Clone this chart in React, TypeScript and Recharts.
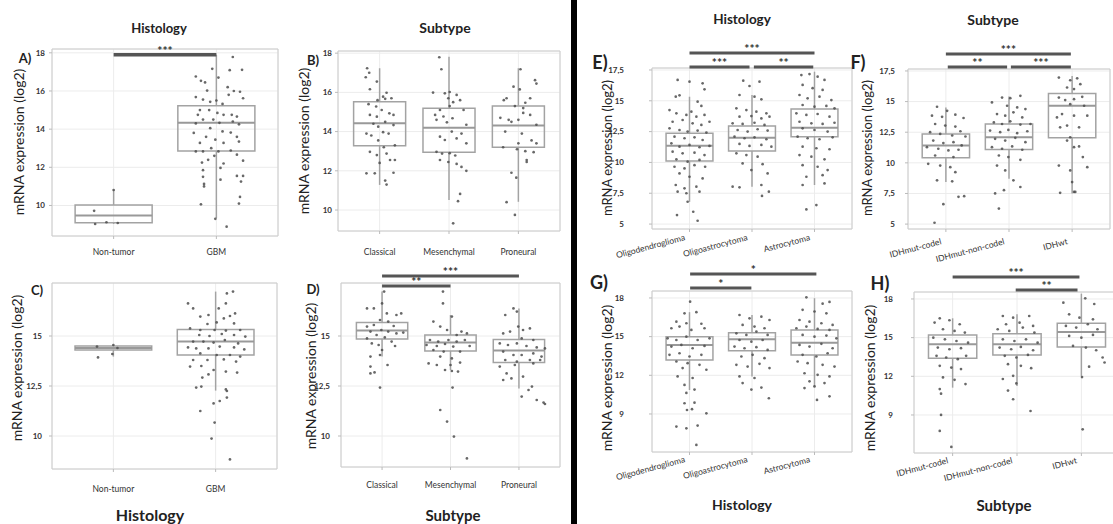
import { ComposedChart, XAxis, YAxis, CartesianGrid, Scatter, ReferenceArea, ReferenceLine } from 'recharts';

// categories
const catsHistA = ['Non-tumor', 'GBM'];
const catsSubB = ['Classical', 'Mesenchymal', 'Proneural'];
const catsHistE = ['Oligodendroglioma', 'Oligoastrocytoma', 'Astrocytoma'];
const catsSubF = ['IDHmut-codel', 'IDHmut-non-codel', 'IDHwt'];

// y ticks and domains
const ticksAB = [10, 12, 14, 16, 18];
const ticksCD = [10, 12.5, 15];
const ticksEF = [5, 7.5, 10, 12.5, 15, 17.5];
const ticksGH = [9, 12, 15, 18];
const domA = [8.4, 18.2];
const domB = [8.93, 18.11];
const domC = [8.35, 17.65];
const domD = [8.45, 17.65];
const domEF = [4.6, 17.66];
const domGH = [6.05, 18.54];

// box stats per group: [whisker low, q1, median, q3, whisker high]
const boxA = [[9.03, 9.1, 9.47, 10.03, 10.81], [9.34, 12.86, 14.33, 15.22, 17.9]];
const boxB = [[11.28, 13.28, 14.42, 15.52, 17.23], [10.51, 12.94, 14.2, 15.19, 17.82], [10.42, 13.2, 14.31, 15.31, 17.23]];
const boxC = [[13.97, 14.3, 14.4, 14.5, 14.55], [12.27, 14.05, 14.72, 15.33, 17.22]];
const boxD = [[13.97, 14.85, 15.27, 15.68, 17.22], [13.3, 14.25, 14.67, 15.05, 16.05], [12.38, 13.67, 14.27, 14.83, 16.38]];
const boxE = [[6.8, 10.11, 11.35, 12.36, 15.33], [8.03, 10.93, 12.0, 12.95, 15.47], [8.17, 12.09, 12.82, 14.33, 17.36]];
const boxF = [[8.43, 10.41, 11.41, 12.36, 14.52], [8.71, 11.09, 12.09, 13.17, 15.42], [7.49, 12.04, 14.66, 15.66, 17.09]];
const boxG = [[10.86, 13.19, 14.35, 15.0, 16.9], [11.9, 13.91, 14.79, 15.31, 16.68], [11.12, 13.58, 14.53, 15.52, 17.98]];
const boxH = [[11.12, 13.4, 14.48, 15.21, 16.5], [11.25, 13.66, 14.48, 15.31, 16.81], [12.03, 14.28, 15.44, 16.11, 18.41]];

// significance bars: [from, to, value, label]
const sigA = [[1, 2, 17.9, '***']];
const sigD = [[1, 3, 18.0, '***'], [1, 2, 17.5, '**']];
const sigE = [[1, 3, 18.88, '***'], [1, 1.96, 17.74, '***'], [2.03, 2.98, 17.74, '**']];
const sigF = [[1, 2.98, 18.88, '***'], [1.03, 1.97, 17.82, '**'], [2.03, 2.98, 17.82, '***']];
const sigG = [[1.01, 3.03, 19.86, '*'], [1.01, 1.99, 18.78, '*']];
const sigH = [[1, 2.97, 19.71, '***'], [1.98, 2.94, 18.7, '**']];

// jittered samples: [offset from category, value]
const ptsA0 = [[-0.19, 9.72], [-0.18, 9.03], [-0.07, 9.12], [0.0, 10.81], [0.04, 9.08]];
const ptsA1 = [[0.16, 17.78], [-0.04, 17.16], [0.25, 17.11], [0.13, 17.09], [-0.2, 16.76], [0.02, 16.7], [-0.15, 16.53], [-0.11, 16.45], [-0.09, 16.02], [0.11, 16.2], [0.17, 16.0], [0.23, 15.96], [0.26, 15.62], [0.12, 15.8], [-0.2, 15.68], [-0.13, 15.55], [-0.06, 15.43], [0.0, 15.5], [0.06, 15.32], [-0.16, 15.0], [-0.07, 15.0], [-0.18, 14.75], [0.01, 14.85], [0.07, 14.75], [0.15, 14.75], [0.2, 14.66], [-0.13, 14.5], [-0.03, 14.5], [0.03, 14.33], [-0.2, 14.3], [0.16, 14.4], [0.22, 14.25], [-0.06, 14.05], [0.06, 13.88], [0.14, 13.82], [-0.22, 13.8], [-0.1, 13.6], [-0.01, 13.45], [0.2, 13.6], [0.22, 13.35], [-0.16, 13.28], [0.07, 13.28], [-0.05, 13.0], [-0.2, 12.83], [-0.13, 12.83], [0.02, 12.83], [0.14, 12.88], [0.2, 12.66], [-0.02, 12.6], [-0.08, 12.39], [-0.14, 12.25], [0.26, 12.35], [0.07, 12.2], [0.04, 11.97], [-0.13, 11.85], [0.2, 11.55], [0.26, 11.55], [-0.13, 11.5], [0.04, 11.35], [-0.12, 11.13], [0.24, 11.25], [-0.12, 11.0], [0.23, 10.45], [0.22, 10.1], [-0.15, 10.06], [-0.01, 9.3], [0.1, 8.89]];
const ptsB0 = [[-0.18, 17.23], [-0.15, 17.0], [-0.2, 16.77], [-0.04, 16.55], [-0.14, 16.16], [0.1, 15.98], [0.05, 15.78], [-0.03, 15.6], [0.08, 15.67], [0.17, 15.7], [-0.16, 15.4], [-0.05, 15.28], [0.03, 15.1], [0.14, 14.93], [-0.14, 14.85], [-0.04, 14.76], [0.2, 14.85], [0.08, 14.5], [-0.09, 14.4], [-0.02, 14.25], [0.2, 14.33], [-0.19, 13.9], [-0.12, 13.8], [0.05, 13.97], [0.13, 13.9], [-0.02, 13.55], [0.22, 13.3], [0.06, 13.2], [-0.14, 12.97], [-0.04, 12.8], [0.1, 12.88], [0.15, 12.55], [0.0, 12.4], [0.22, 12.55], [-0.19, 11.87], [-0.07, 11.87], [0.2, 11.9], [0.08, 11.5], [0.1, 11.3]];
const ptsB1 = [[-0.14, 17.79], [-0.11, 17.18], [-0.23, 15.99], [-0.06, 15.95], [0.01, 16.02], [0.11, 15.87], [0.16, 15.6], [-0.01, 15.7], [0.06, 15.5], [0.01, 15.3], [-0.13, 15.1], [0.21, 15.1], [-0.2, 14.85], [-0.08, 14.77], [0.05, 14.68], [-0.18, 14.6], [-0.03, 14.47], [0.25, 14.35], [0.04, 14.0], [0.18, 13.9], [-0.13, 13.74], [-0.06, 13.57], [0.11, 13.65], [0.25, 13.4], [-0.18, 12.97], [-0.1, 12.88], [0.01, 12.9], [0.09, 12.78], [-0.13, 12.55], [-0.01, 12.45], [0.11, 12.35], [0.18, 12.2], [0.25, 12.0], [0.16, 10.82], [0.13, 10.45], [0.06, 9.32]];
const ptsB2 = [[0.03, 17.18], [-0.07, 16.29], [0.24, 16.62], [0.26, 16.45], [0.02, 16.15], [-0.17, 15.7], [-0.21, 15.6], [0.17, 15.7], [0.1, 15.47], [0.07, 15.2], [-0.05, 15.3], [-0.26, 14.7], [-0.14, 14.6], [-0.1, 14.5], [0.0, 14.6], [0.07, 14.95], [0.17, 14.85], [0.26, 14.35], [-0.19, 14.0], [0.05, 13.9], [0.19, 13.55], [0.0, 13.4], [0.26, 13.4], [-0.22, 13.2], [-0.02, 13.1], [0.1, 13.0], [0.22, 12.95], [0.12, 12.55], [0.12, 12.45], [-0.1, 11.9], [-0.03, 11.65], [-0.17, 10.4], [-0.05, 9.75]];
const ptsC0 = [[-0.16, 14.47], [0.0, 14.55], [0.04, 14.4], [-0.15, 13.93], [-0.01, 14.1]];
const ptsC1 = [[0.17, 17.22], [0.11, 17.13], [-0.27, 16.63], [-0.22, 16.38], [0.1, 16.63], [0.03, 16.38], [0.19, 16.13], [-0.15, 15.97], [-0.07, 16.05], [0.08, 15.88], [0.14, 16.0], [-0.08, 15.6], [0.01, 15.68], [0.18, 15.63], [-0.25, 15.38], [-0.15, 15.3], [-0.01, 15.3], [0.1, 15.27], [0.24, 15.3], [-0.16, 15.05], [-0.06, 15.0], [0.06, 15.1], [0.18, 15.05], [0.29, 14.97], [-0.22, 14.72], [-0.12, 14.72], [-0.02, 14.67], [0.09, 14.8], [0.22, 14.63], [-0.27, 14.43], [-0.19, 14.38], [-0.07, 14.38], [0.04, 14.47], [0.18, 14.43], [0.28, 14.33], [-0.15, 14.13], [0.01, 14.05], [0.14, 14.05], [0.24, 13.97], [-0.22, 13.8], [-0.08, 13.8], [0.08, 13.83], [0.2, 13.72], [-0.25, 13.47], [-0.14, 13.5], [-0.02, 13.3], [0.1, 13.22], [0.21, 13.17], [-0.07, 13.08], [-0.13, 12.92], [-0.19, 12.42], [-0.14, 12.47], [0.1, 12.33], [0.11, 12.25], [0.11, 11.92], [0.04, 11.75], [-0.02, 11.63], [-0.15, 11.25], [-0.01, 10.67], [-0.04, 9.87], [0.14, 8.83]];
const ptsD0 = [[0.03, 17.22], [0.0, 16.63], [-0.22, 16.38], [-0.12, 16.38], [0.07, 16.13], [0.21, 16.05], [0.28, 16.13], [-0.03, 15.8], [0.09, 15.72], [-0.22, 15.47], [-0.12, 15.55], [0.17, 15.5], [-0.17, 15.22], [-0.01, 15.3], [0.09, 15.22], [0.21, 15.13], [0.31, 15.17], [-0.08, 15.05], [-0.22, 14.88], [0.04, 14.93], [0.14, 14.72], [-0.15, 14.63], [-0.05, 14.55], [0.19, 14.5], [0.0, 14.3], [-0.17, 13.97], [-0.03, 14.05], [-0.17, 13.47], [0.08, 13.55], [-0.17, 13.13], [-0.11, 13.18], [-0.03, 12.42]];
const ptsD1 = [[-0.11, 17.22], [-0.11, 16.63], [-0.25, 15.72], [-0.15, 15.47], [0.02, 15.97], [-0.05, 15.3], [0.16, 15.22], [0.09, 15.05], [0.24, 15.13], [-0.3, 14.8], [-0.18, 14.72], [-0.03, 14.8], [0.09, 14.72], [0.21, 14.8], [-0.35, 14.55], [-0.2, 14.5], [-0.08, 14.6], [0.04, 14.47], [0.28, 14.5], [-0.25, 14.3], [-0.1, 14.22], [0.14, 14.22], [-0.15, 13.97], [0.02, 13.88], [-0.32, 13.63], [-0.2, 13.55], [0.0, 13.55], [0.14, 13.67], [-0.08, 13.3], [0.02, 13.25], [0.11, 13.22], [0.03, 12.42], [-0.15, 11.3], [-0.05, 10.72], [0.05, 9.97], [0.24, 8.88]];
const ptsD2 = [[-0.08, 16.38], [-0.2, 16.05], [-0.03, 16.22], [-0.01, 15.47], [0.06, 15.3], [0.16, 15.38], [-0.23, 15.13], [-0.13, 15.22], [0.04, 14.88], [0.21, 14.8], [-0.28, 14.63], [-0.16, 14.55], [-0.03, 14.63], [0.11, 14.5], [0.26, 14.43], [0.38, 14.38], [-0.23, 14.22], [-0.08, 14.05], [0.04, 14.05], [0.21, 14.13], [0.33, 13.97], [-0.2, 13.8], [-0.03, 13.72], [0.16, 13.8], [0.31, 13.8], [-0.28, 13.47], [-0.06, 13.55], [0.21, 13.63], [-0.18, 13.13], [0.06, 12.97], [-0.23, 12.8], [-0.11, 12.88], [0.19, 12.47], [0.14, 12.3], [0.04, 11.97], [0.26, 11.8], [0.36, 11.67], [0.38, 11.6]];
const ptsE0 = [[-0.19, 16.69], [0.0, 16.55], [0.21, 16.42], [0.24, 15.93], [-0.22, 15.33], [-0.16, 15.44], [0.13, 14.93], [0.19, 14.58], [-0.32, 14.25], [-0.21, 13.98], [-0.05, 13.85], [0.03, 14.12], [0.11, 13.71], [0.24, 13.85], [-0.27, 13.3], [-0.11, 13.44], [0.05, 13.17], [0.19, 13.04], [0.32, 13.3], [-0.32, 12.77], [-0.16, 12.63], [-0.03, 12.5], [0.13, 12.58], [0.27, 12.42], [-0.24, 12.09], [-0.08, 11.96], [0.08, 12.04], [0.21, 11.82], [-0.29, 11.55], [-0.16, 11.28], [0.0, 11.42], [0.16, 11.23], [0.32, 11.34], [-0.27, 10.87], [-0.11, 10.74], [0.08, 10.79], [0.24, 10.6], [-0.21, 10.25], [-0.03, 10.06], [0.16, 10.2], [-0.24, 9.65], [-0.08, 9.51], [0.08, 9.78], [0.25, 9.65], [-0.16, 9.11], [0.0, 8.84], [0.21, 8.7], [-0.22, 8.17], [-0.08, 7.9], [0.11, 8.03], [-0.19, 7.63], [-0.05, 7.5], [0.16, 7.63], [-0.03, 6.81], [0.06, 6.0], [-0.2, 5.73], [0.13, 5.27]];
const ptsE1 = [[-0.14, 16.63], [-0.04, 16.2], [0.12, 16.55], [-0.2, 15.47], [0.04, 15.33], [0.15, 15.12], [-0.25, 14.39], [-0.09, 14.25], [0.07, 14.12], [0.23, 13.98], [-0.2, 13.71], [-0.01, 13.76], [0.15, 13.57], [0.28, 13.71], [-0.31, 13.17], [-0.15, 13.12], [0.04, 13.22], [0.2, 13.04], [-0.23, 12.63], [-0.07, 12.5], [0.09, 12.69], [0.25, 12.58], [-0.28, 12.09], [-0.12, 11.96], [0.04, 12.04], [0.23, 11.88], [-0.2, 11.5], [-0.04, 11.34], [0.15, 11.42], [0.31, 11.28], [-0.25, 10.74], [-0.09, 10.6], [0.09, 10.47], [-0.15, 9.92], [0.17, 9.86], [-0.01, 9.38], [0.25, 9.11], [-0.31, 8.03], [-0.2, 7.98], [0.15, 8.17], [0.27, 7.63], [0.16, 7.28]];
const ptsE2 = [[-0.21, 17.09], [-0.08, 17.17], [0.05, 16.96], [0.16, 16.69], [-0.19, 16.29], [-0.03, 16.02], [0.13, 15.88], [-0.24, 15.47], [-0.11, 15.2], [0.08, 15.33], [0.27, 15.06], [-0.19, 14.66], [0.0, 14.52], [0.19, 14.58], [0.32, 14.39], [-0.29, 13.98], [-0.13, 13.85], [0.05, 13.93], [0.24, 13.71], [-0.24, 13.3], [-0.05, 13.17], [0.13, 13.12], [0.32, 13.22], [-0.19, 12.77], [0.0, 12.63], [0.21, 12.5], [-0.27, 12.09], [-0.11, 11.96], [0.08, 11.88], [0.29, 12.04], [-0.19, 11.28], [0.03, 11.15], [0.24, 11.07], [-0.24, 10.6], [-0.05, 10.47], [0.16, 10.25], [-0.19, 9.78], [0.05, 9.65], [0.21, 9.38], [-0.13, 8.84], [0.13, 8.97], [-0.19, 8.17], [0.16, 8.3], [-0.13, 6.19], [0.03, 6.54]];
const ptsF0 = [[-0.14, 14.58], [0.02, 14.25], [-0.22, 13.85], [-0.06, 13.76], [0.15, 13.93], [0.28, 13.66], [-0.17, 13.17], [-0.01, 13.04], [0.15, 12.96], [0.23, 12.58], [-0.25, 12.5], [-0.09, 12.36], [0.1, 12.23], [0.31, 12.15], [-0.2, 11.82], [-0.04, 11.61], [0.12, 11.69], [0.25, 11.42], [-0.3, 11.28], [-0.12, 11.15], [0.04, 11.01], [0.2, 11.07], [-0.17, 10.6], [0.12, 10.47], [-0.28, 9.92], [-0.09, 9.78], [0.07, 9.65], [0.15, 9.24], [-0.14, 8.57], [0.1, 8.49], [0.2, 7.23], [0.29, 7.28], [-0.04, 6.63], [-0.18, 5.11]];
const ptsF1 = [[-0.11, 15.33], [0.02, 15.28], [0.18, 15.47], [-0.27, 14.93], [-0.03, 14.66], [0.13, 14.52], [0.26, 14.39], [-0.19, 13.98], [-0.06, 13.85], [0.07, 14.12], [0.21, 13.71], [-0.24, 13.3], [-0.11, 13.17], [0.02, 13.39], [0.18, 13.12], [0.34, 13.17], [-0.3, 12.63], [-0.14, 12.5], [-0.01, 12.69], [0.13, 12.42], [0.29, 12.58], [-0.22, 11.96], [-0.06, 11.82], [0.1, 12.04], [0.26, 11.69], [-0.27, 11.28], [-0.11, 11.15], [0.05, 11.34], [0.21, 11.07], [-0.16, 10.6], [-0.01, 10.47], [0.18, 10.25], [-0.19, 9.78], [-0.06, 9.38], [0.07, 8.57], [-0.08, 7.77], [-0.22, 7.5], [0.18, 8.03], [-0.16, 6.27]];
const ptsF2 = [[-0.21, 16.96], [-0.03, 16.74], [0.08, 16.9], [0.13, 16.42], [-0.08, 16.15], [0.03, 16.02], [-0.21, 15.33], [-0.11, 15.12], [0.03, 15.2], [0.16, 15.39], [-0.03, 14.79], [0.19, 14.66], [-0.16, 13.98], [0.03, 13.85], [-0.24, 13.71], [0.24, 13.85], [-0.08, 13.04], [0.11, 12.9], [-0.19, 12.9], [-0.03, 12.09], [-0.08, 11.82], [0.11, 11.34], [0.03, 11.28], [0.17, 10.47], [-0.21, 9.78], [-0.03, 9.38], [0.24, 9.65], [0.0, 8.43], [0.03, 7.63], [-0.19, 7.55], [0.05, 7.63]];
const ptsG0 = [[0.01, 17.71], [-0.08, 16.81], [0.11, 16.9], [-0.21, 16.16], [-0.05, 16.04], [0.19, 16.0], [-0.29, 15.65], [-0.16, 15.78], [0.03, 15.52], [0.24, 15.65], [-0.35, 14.87], [-0.21, 14.74], [-0.05, 15.0], [0.13, 14.74], [0.32, 14.87], [-0.29, 14.23], [-0.13, 14.36], [0.05, 14.1], [0.24, 14.28], [-0.32, 13.59], [-0.16, 13.71], [0.0, 13.46], [0.19, 13.59], [-0.21, 13.07], [-0.03, 12.94], [0.16, 12.81], [0.27, 12.43], [-0.11, 12.56], [-0.19, 11.91], [0.05, 11.79], [-0.08, 11.25], [0.08, 10.89], [-0.05, 10.63], [-0.08, 9.83], [0.08, 9.88], [-0.04, 9.31], [0.04, 9.37], [0.27, 9.05], [-0.21, 8.02], [-0.05, 7.89], [0.13, 8.1], [0.11, 6.6]];
const ptsG1 = [[-0.2, 16.68], [-0.04, 16.42], [0.15, 16.55], [0.28, 16.29], [-0.15, 15.91], [0.04, 15.78], [0.2, 15.65], [-0.25, 15.26], [-0.09, 15.13], [0.07, 15.39], [0.25, 15.13], [-0.2, 14.74], [-0.01, 14.61], [0.17, 14.74], [-0.28, 14.23], [-0.12, 14.1], [0.07, 14.18], [0.25, 13.97], [-0.17, 13.46], [0.01, 13.59], [0.2, 13.33], [-0.25, 12.81], [-0.07, 12.68], [0.12, 12.89], [0.28, 12.56], [-0.2, 11.91], [0.04, 11.79], [-0.15, 11.4], [0.15, 11.05], [-0.01, 10.89], [0.27, 10.22]];
const ptsG2 = [[-0.13, 18.05], [0.13, 17.56], [0.24, 17.69], [-0.19, 17.08], [0.0, 16.95], [0.19, 16.81], [-0.24, 16.29], [-0.08, 16.16], [0.11, 16.04], [0.29, 15.91], [-0.29, 15.65], [-0.13, 15.78], [0.05, 15.6], [0.24, 15.52], [-0.19, 15.13], [0.0, 15.0], [0.19, 15.08], [0.35, 14.87], [-0.24, 14.36], [-0.08, 14.23], [0.11, 14.44], [0.29, 14.1], [-0.19, 13.59], [0.03, 13.46], [0.21, 13.71], [-0.27, 13.07], [-0.11, 12.94], [0.13, 12.81], [0.32, 12.68], [-0.16, 12.16], [0.05, 12.04], [0.24, 11.91], [-0.08, 11.53], [0.16, 11.4], [-0.16, 11.01], [0.0, 11.14], [0.24, 10.37], [0.04, 10.09]];
const ptsH0 = [[-0.2, 16.5], [-0.05, 16.35], [-0.28, 16.17], [0.11, 16.04], [-0.15, 15.65], [0.03, 15.52], [0.19, 15.39], [-0.3, 15.0], [-0.12, 14.87], [0.06, 14.74], [0.24, 14.61], [-0.23, 14.23], [-0.05, 14.1], [0.13, 14.18], [-0.25, 13.59], [-0.1, 13.46], [0.08, 13.33], [0.21, 13.59], [-0.2, 12.81], [-0.02, 12.68], [0.13, 12.56], [-0.15, 11.91], [0.03, 11.73], [0.2, 11.4], [-0.2, 11.01], [-0.18, 10.65], [-0.18, 9.0], [-0.2, 7.76], [-0.02, 6.52]];
const ptsH1 = [[-0.22, 16.68], [-0.06, 16.55], [0.19, 16.68], [-0.17, 16.04], [0.04, 16.16], [0.25, 15.91], [-0.3, 15.65], [-0.12, 15.52], [0.09, 15.78], [0.27, 15.39], [-0.22, 14.87], [-0.04, 14.74], [0.14, 14.87], [0.32, 14.61], [-0.27, 14.23], [-0.09, 14.1], [0.06, 14.28], [0.25, 14.02], [-0.19, 13.59], [-0.01, 13.46], [0.17, 13.66], [-0.14, 12.94], [0.06, 12.81], [0.22, 12.63], [-0.22, 11.79], [-0.06, 12.04], [-0.01, 11.45], [-0.14, 10.89], [-0.06, 10.22], [0.21, 9.31]];
const ptsH2 = [[-0.28, 17.71], [0.06, 18.05], [0.2, 17.61], [-0.19, 16.81], [-0.03, 16.55], [0.18, 16.42], [-0.24, 15.91], [-0.08, 15.78], [0.1, 16.04], [0.25, 15.65], [-0.19, 15.13], [0.0, 15.0], [0.18, 15.21], [-0.13, 14.36], [0.07, 14.23], [0.23, 14.02], [0.33, 13.46], [0.36, 13.07], [0.12, 12.75], [0.01, 11.94], [0.02, 7.89]];

// plot rectangles in page pixels
const geoA = { left: 52, top: 49, right: 278, bottom: 236, yGap: 4, xGap: 19, rot: false, sw: 3.5 };
const geoB = { left: 338, top: 51, right: 560, bottom: 231, yGap: 3, xGap: 24, rot: false, sw: 3 };
const geoC = { left: 52, top: 283, right: 277, bottom: 469, yGap: 7, xGap: 23, rot: false, sw: 3 };
const geoD = { left: 341, top: 283, right: 560, bottom: 467, yGap: 8, xGap: 21, rot: false, sw: 3 };
const geoE = { left: 652, top: 68, right: 852, bottom: 229, yGap: 25, xGap: 11, rot: true, sw: 3 };
const geoF = { left: 908, top: 69, right: 1110, bottom: 229, yGap: 10, xGap: 15, rot: true, sw: 3 };
const geoG = { left: 652, top: 291, right: 852, bottom: 452, yGap: 25, xGap: 10, rot: true, sw: 3 };
const geoH = { left: 914, top: 292, right: 1120, bottom: 453, yGap: 18, xGap: 10, rot: true, sw: 3 };

const MT = 34;
const XH = 45;
const YW = 60;
const BOXC = '#a3a3a3';

function Panel({ g, cats, dom, ticks, boxes, pts, sig }: any) {
  const n = cats.length;
  const plotW = g.right - g.left;
  const plotH = g.bottom - g.top;
  const data = pts.flatMap((grp: number[][], i: number) => grp.map(([dx, v]) => ({ x: i + 1 + dx, y: v })));

  const XTick = (p: any) => {
    const label = cats[Math.round(p.payload.value) - 1];
    const by = p.y - 5 + g.xGap;
    if (g.rot) {
      const ax = p.x - 4;
      return (
        <text x={ax} y={by} transform={`rotate(-15 ${ax} ${by})`} textAnchor="end" fontSize={8.5} fill="#333">
          {label}
        </text>
      );
    }
    return (
      <text x={p.x} y={by} textAnchor="middle" fontSize={8.5} fill="#333">
        {label}
      </text>
    );
  };

  return (
    <div style={{ position: 'absolute', left: g.left - YW, top: g.top - MT }}>
      <ComposedChart width={plotW + YW + 2} height={plotH + MT + XH} margin={{ top: MT, right: 2, bottom: 0, left: 0 }}>
        <CartesianGrid stroke="#ececec" />
        <XAxis
          type="number"
          dataKey="x"
          domain={[0.4, n + 0.6]}
          allowDataOverflow
          ticks={cats.map((_: string, i: number) => i + 1)}
          interval={0}
          tick={XTick}
          tickLine={{ stroke: '#bbb' }}
          tickSize={3}
          axisLine={false}
          height={XH}
        />
        <YAxis
          type="number"
          dataKey="y"
          domain={dom}
          allowDataOverflow
          ticks={ticks}
          interval={0}
          width={YW}
          axisLine={false}
          tickLine={{ stroke: '#bbb' }}
          tickSize={3}
          tickMargin={g.yGap}
          tick={{ fontSize: 8, fill: '#333', fontWeight: 700 }}
          tickFormatter={(v: number) => String(v).replace('.', ',')}
        />
        <ReferenceArea x1={0.4} x2={n + 0.6} y1={dom[0]} y2={dom[1]} fill="none" stroke="#cccccc" strokeWidth={1} ifOverflow="visible" />
        {boxes.map((b: number[], i: number) => {
          const x = i + 1;
          return [
            <ReferenceLine key={`wl${i}`} segment={[{ x, y: b[0] }, { x, y: b[1] }]} stroke={BOXC} strokeWidth={1.5} ifOverflow="visible" />,
            <ReferenceLine key={`wh${i}`} segment={[{ x, y: b[3] }, { x, y: b[4] }]} stroke={BOXC} strokeWidth={1.5} ifOverflow="visible" />,
            <ReferenceArea key={`bx${i}`} x1={x - 0.375} x2={x + 0.375} y1={b[1]} y2={b[3]} fill="none" stroke={BOXC} strokeWidth={1.5} ifOverflow="visible" />,
            <ReferenceLine key={`md${i}`} segment={[{ x: x - 0.375, y: b[2] }, { x: x + 0.375, y: b[2] }]} stroke="#999" strokeWidth={2} ifOverflow="visible" />,
          ];
        })}
        <Scatter
          data={data}
          dataKey="y"
          isAnimationActive={false}
          shape={(p: any) => <circle cx={p.cx} cy={p.cy} r={1.35} fill="#4d4d4d" fillOpacity={0.85} />}
        />
        {sig.map((s: any[], i: number) => (
          <ReferenceLine
            key={`sg${i}`}
            segment={[{ x: s[0], y: s[2] }, { x: s[1], y: s[2] }]}
            stroke="#555"
            strokeWidth={g.sw}
            ifOverflow="visible"
            label={{ value: s[3], position: 'top', offset: 0, fill: '#333', fontSize: 12, fontWeight: 700 }}
          />
        ))}
      </ComposedChart>
    </div>
  );
}

function Txt({ x, y, size, weight = 700, rot = 0, children }: any) {
  return (
    <div
      style={{
        position: 'absolute',
        left: x,
        top: y,
        transform: `translate(-50%, -50%) rotate(${rot}deg)`,
        fontSize: size,
        fontWeight: weight,
        color: '#222',
        whiteSpace: 'nowrap',
        lineHeight: 1,
      }}
    >
      {children}
    </div>
  );
}

const yLabel = 'mRNA expression (log2)';

export default function App() {
  return (
    <div
      style={{
        position: 'absolute',
        left: 0,
        top: 0,
        width: 1113,
        height: 524,
        overflow: 'hidden',
        background: '#fff',
        fontFamily: 'Lato, "Open Sans", sans-serif',
      }}
    >
      <Panel g={geoA} cats={catsHistA} dom={domA} ticks={ticksAB} boxes={boxA} pts={[ptsA0, ptsA1]} sig={sigA} />
      <Panel g={geoB} cats={catsSubB} dom={domB} ticks={ticksAB} boxes={boxB} pts={[ptsB0, ptsB1, ptsB2]} sig={[]} />
      <Panel g={geoC} cats={catsHistA} dom={domC} ticks={ticksCD} boxes={boxC} pts={[ptsC0, ptsC1]} sig={[]} />
      <Panel g={geoD} cats={catsSubB} dom={domD} ticks={ticksCD} boxes={boxD} pts={[ptsD0, ptsD1, ptsD2]} sig={sigD} />
      <Panel g={geoE} cats={catsHistE} dom={domEF} ticks={ticksEF} boxes={boxE} pts={[ptsE0, ptsE1, ptsE2]} sig={sigE} />
      <Panel g={geoF} cats={catsSubF} dom={domEF} ticks={ticksEF} boxes={boxF} pts={[ptsF0, ptsF1, ptsF2]} sig={sigF} />
      <Panel g={geoG} cats={catsHistE} dom={domGH} ticks={ticksGH} boxes={boxG} pts={[ptsG0, ptsG1, ptsG2]} sig={sigG} />
      <Panel g={geoH} cats={catsSubF} dom={domGH} ticks={ticksGH} boxes={boxH} pts={[ptsH0, ptsH1, ptsH2]} sig={sigH} />

      <div style={{ position: 'absolute', left: 571, top: 0, width: 6, height: 524, background: '#000' }} />

      <Txt x={159} y={28} size={13}>Histology</Txt>
      <Txt x={445} y={28} size={14}>Subtype</Txt>
      <Txt x={742} y={20} size={13.5}>Histology</Txt>
      <Txt x={993} y={20} size={14}>Subtype</Txt>
      <Txt x={150} y={515} size={16}>Histology</Txt>
      <Txt x={453} y={515} size={15}>Subtype</Txt>
      <Txt x={742} y={505} size={14}>Histology</Txt>
      <Txt x={1004} y={505} size={15}>Subtype</Txt>

      <Txt x={25} y={58} size={13}>A)</Txt>
      <Txt x={313} y={60} size={13}>B)</Txt>
      <Txt x={37} y={290} size={13}>C)</Txt>
      <Txt x={313} y={289} size={13}>D)</Txt>
      <Txt x={600} y={62} size={18}>E)</Txt>
      <Txt x={858} y={62} size={18}>F)</Txt>
      <Txt x={599} y={282} size={18}>G)</Txt>
      <Txt x={880} y={283} size={18}>H)</Txt>

      <Txt x={19} y={142} size={14} weight={400} rot={-90}>{yLabel}</Txt>
      <Txt x={304} y={141} size={14} weight={400} rot={-90}>{yLabel}</Txt>
      <Txt x={17} y={368} size={14} weight={400} rot={-90}>{yLabel}</Txt>
      <Txt x={311} y={376} size={14} weight={400} rot={-90}>{yLabel}</Txt>
      <Txt x={607} y={148} size={13} weight={400} rot={-90}>{yLabel}</Txt>
      <Txt x={867} y={148} size={13} weight={400} rot={-90}>{yLabel}</Txt>
      <Txt x={607} y={378} size={14} weight={400} rot={-90}>{yLabel}</Txt>
      <Txt x={870} y={378} size={14} weight={400} rot={-90}>{yLabel}</Txt>
    </div>
  );
}
